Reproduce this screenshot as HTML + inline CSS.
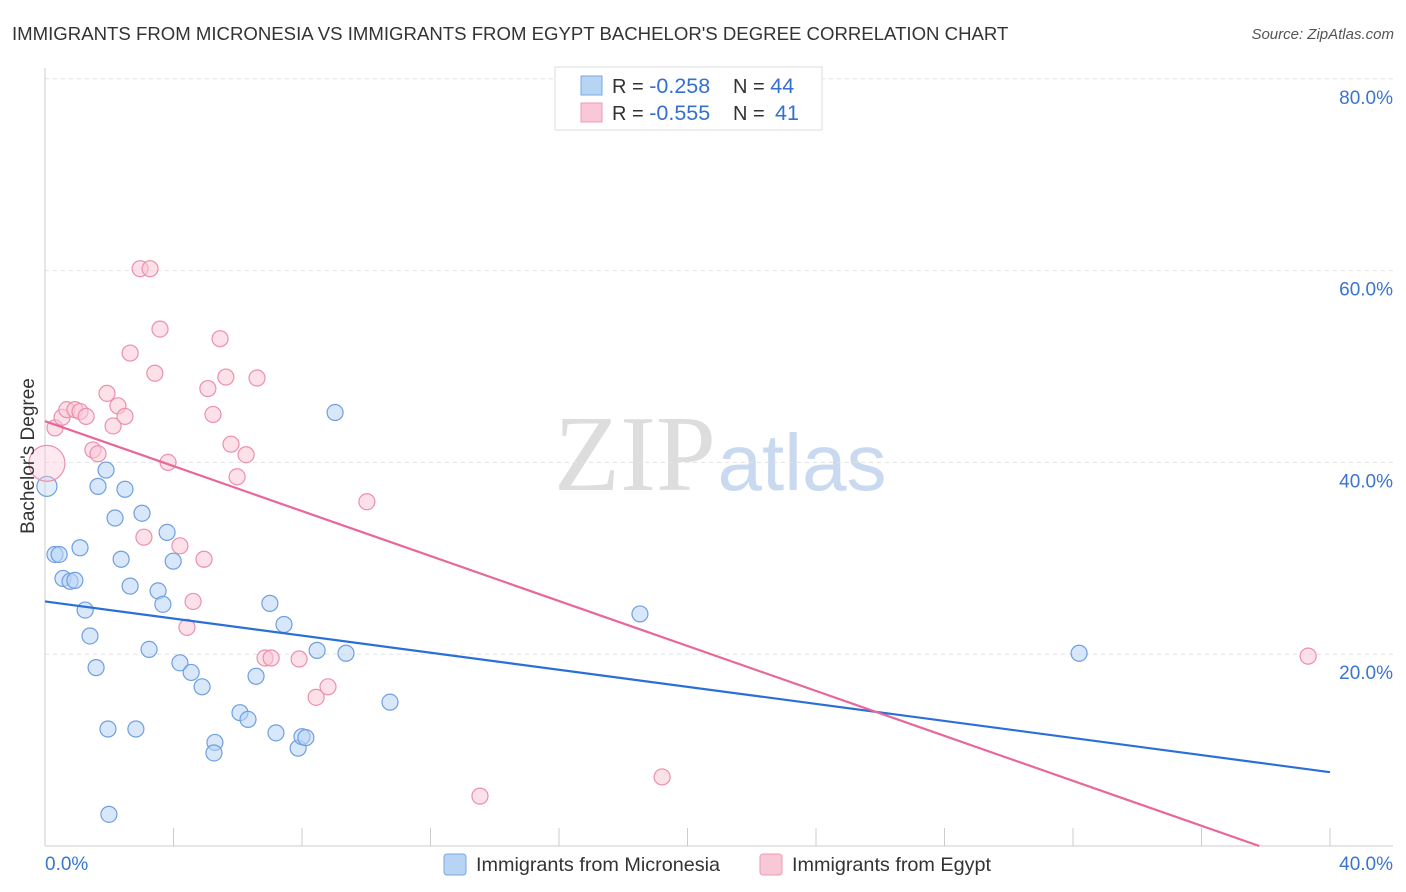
<!DOCTYPE html>
<html><head><meta charset="utf-8">
<style>
body{margin:0;background:#fff;font-family:"Liberation Sans",sans-serif;}
svg{display:block}
</style></head>
<body>
<svg id="chart" width="1406" height="892">
<text x="12" y="40" font-size="18.6" fill="#333">IMMIGRANTS FROM MICRONESIA VS IMMIGRANTS FROM EGYPT BACHELOR'S DEGREE CORRELATION CHART</text>
<text x="1394" y="39" font-size="15" fill="#555" font-style="italic" text-anchor="end">Source: ZipAtlas.com</text>
<g>
<text x="635" y="490" font-size="108" font-family="Liberation Serif,serif" fill="#ddd" text-anchor="middle">ZIP</text>
<text x="802" y="490" font-size="80" fill="#c9d9f0" text-anchor="middle">atlas</text>
</g>
<g id="grid"></g>
<g id="axes"></g>
<g id="marks"></g>
<text transform="translate(34,456) rotate(-90)" font-size="19" fill="#333" text-anchor="middle">Bachelor's Degree</text>
<g>
<rect x="555" y="67" width="267" height="63" fill="#fff" stroke="#ddd"/>
<rect x="581" y="76" width="21" height="19" fill="#b8d4f5" stroke="#7aa7e0"/>
<rect x="581" y="103" width="21" height="19" fill="#f9c8d7" stroke="#ef9ab5"/>
<text x="612" y="93" font-size="20" fill="#333">R = <tspan fill="#3370d0" font-size="21.5">-0.258</tspan><tspan x="733">N = </tspan><tspan fill="#3370d0" font-size="21.5">44</tspan></text>
<text x="612" y="120" font-size="20" fill="#333">R = <tspan fill="#3370d0" font-size="21.5">-0.555</tspan><tspan x="733">N = </tspan><tspan fill="#3370d0" x="775" font-size="21.5">41</tspan></text>
</g>
<g>
<rect x="444" y="854" width="22" height="21" rx="3" fill="#b8d4f5" stroke="#7aa7e0"/>
<text x="476" y="871" font-size="19.8" fill="#333">Immigrants from Micronesia</text>
<rect x="760" y="854" width="22" height="21" rx="3" fill="#f9c8d7" stroke="#ef9ab5"/>
<text x="792" y="871" font-size="19.8" fill="#333">Immigrants from Egypt</text>
</g>
</svg>
<script>
const blueX=[0.06,0.31,0.44,0.56,0.78,0.93,1.09,1.25,1.40,1.59,1.65,1.90,1.96,1.99,2.18,2.37,2.49,2.65,2.83,3.02,3.24,3.52,3.67,3.80,3.99,4.20,4.55,4.89,5.29,5.26,6.07,6.32,6.57,7.00,7.19,7.44,7.88,8.00,8.12,8.47,9.03,9.37,10.74,18.52,32.19];
const blueY=[37.5,30.4,30.4,27.9,27.6,27.7,31.1,24.6,21.9,18.6,37.5,39.2,12.2,3.3,34.2,29.9,37.2,27.1,12.2,34.7,20.5,26.6,25.2,32.7,29.7,19.1,18.1,16.6,10.8,9.7,13.9,13.2,17.7,25.3,11.8,23.1,10.2,11.4,11.3,20.4,45.2,20.1,15.0,24.2,20.1];
const pinkX=[0.06,0.31,0.53,0.68,0.93,1.09,1.28,1.49,1.65,1.93,2.12,2.27,2.49,2.65,2.96,3.08,3.27,3.42,3.58,3.83,4.20,4.42,4.61,4.95,5.07,5.23,5.45,5.63,5.79,5.98,6.26,6.60,6.85,7.04,7.91,8.44,8.81,10.02,13.54,19.21,39.32];
const pinkY=[39.9,43.6,44.7,45.5,45.5,45.3,44.8,41.3,40.9,47.2,43.8,45.9,44.8,51.4,60.2,32.2,60.2,49.3,53.9,40.0,31.3,22.8,25.5,29.9,47.7,45.0,52.9,48.9,41.9,38.5,40.8,48.8,19.6,19.6,19.5,15.5,16.6,35.9,5.2,7.2,19.8];
const blueSizes=[10];
const pinkSizes=[18];
const trendIntercept=[25.5,44.3];
const trendSlope=[-0.445,-1.172];
const yTicks=[20,40,60,80];
const xTickVals=[0,4,8,12,16,20,24,28,32,36,40];
const NS="http://www.w3.org/2000/svg";
const X=v=>45+v*32.125, Y=v=>846-v*9.59;
function mk(tag,attrs,parent){const e=document.createElementNS(NS,tag);for(const k in attrs)e.setAttribute(k,attrs[k]);parent.appendChild(e);return e;}
const grid=document.getElementById('grid'),axes=document.getElementById('axes'),marks=document.getElementById('marks');
yTicks.forEach(t=>{
 const l=mk('line',{x1:45,x2:1393,y1:Y(t),y2:Y(t),stroke:'#e2e2e2','stroke-dasharray':'4,4'},grid);
 
 
 const tx=mk('text',{x:1393,y:Y(t)+25,'font-size':19,fill:'#3a75d0','text-anchor':'end'},axes);
 tx.textContent=t.toFixed(1)+'%';
 
 
});
mk('line',{x1:45,x2:45,y1:68,y2:846,stroke:'#ccc'},axes);
mk('line',{x1:45,x2:1393,y1:846,y2:846,stroke:'#ccc'},axes);
xTickVals.forEach(t=>{const l=mk('line',{x1:X(t),x2:X(t),y1:828,y2:846,stroke:'#ccc'},axes);
 
 });
[[0,'start',45],[40,'end',1393]].forEach(([v,a,px])=>{const t=mk('text',{x:px,y:870,'font-size':19,fill:'#3a75d0','text-anchor':a},axes);t.textContent=v.toFixed(1)+'%';
 
 });
function pts(xs,ys,fill,stroke,name,big,op){xs.forEach((x,i)=>{const c=mk('circle',{cx:X(x),cy:Y(ys[i]),r:i===0?big:8,fill:fill,'fill-opacity':i===0?0.4:op,stroke:stroke,'stroke-width':1.2},marks);
 
 });}
pts(blueX,blueY,'#b8d4f5','#6f9fe0','point-micronesia',blueSizes[0],0.55);
pts(pinkX,pinkY,'#f9c8d7','#ec8fae','point-egypt',pinkSizes[0],0.55);
const colors=['#2a6fd6','#e8679a'];
const names=['trend-micronesia','trend-egypt'];
for(let i=0;i<2;i++){let x2=40,y2=trendIntercept[i]+trendSlope[i]*40;if(y2<0){x2=-trendIntercept[i]/trendSlope[i];y2=0;}
 const l=mk('line',{x1:X(0),y1:Y(trendIntercept[i]),x2:X(x2),y2:Y(y2),stroke:colors[i],'stroke-width':2.2},marks);
 
 }
</script>
</body></html>
